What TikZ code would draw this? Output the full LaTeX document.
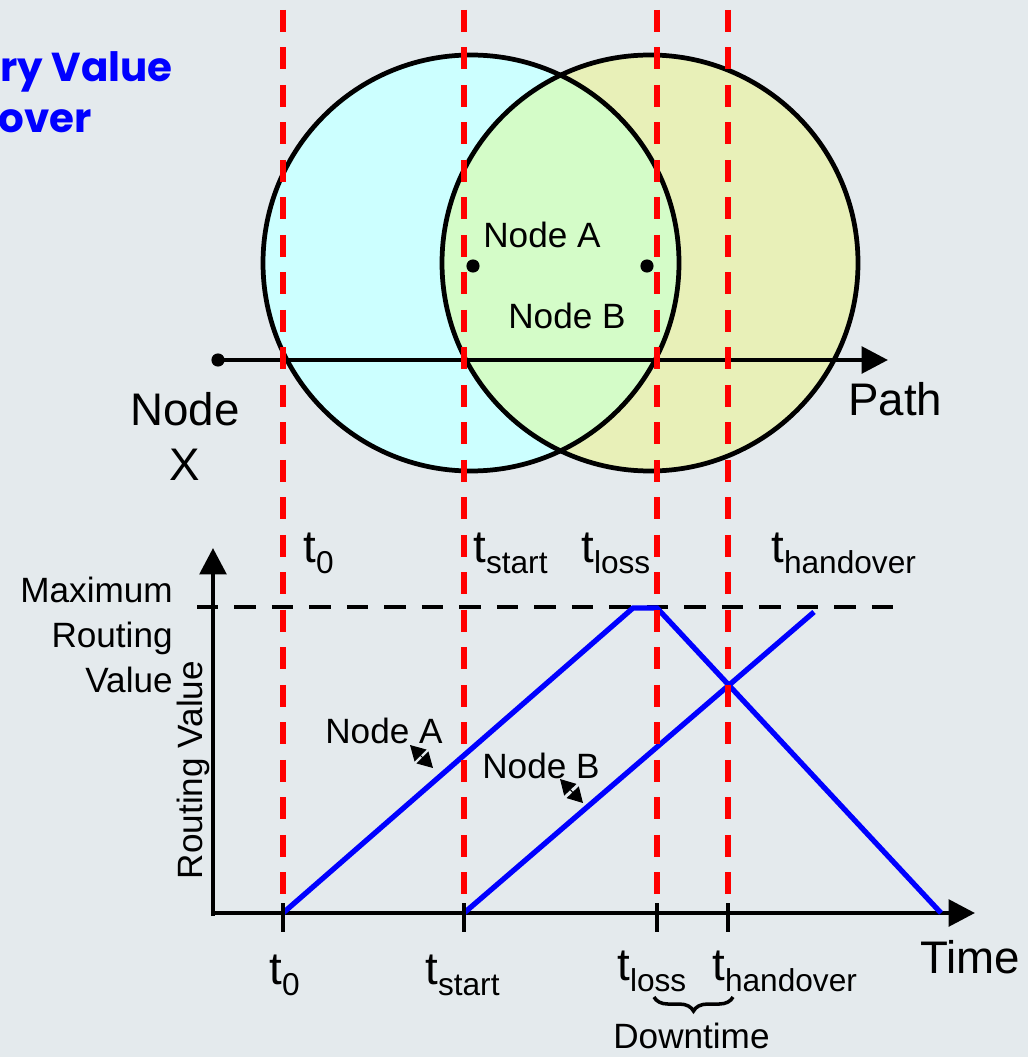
\documentclass[tikz,border=0pt]{standalone}
\usepackage{fontspec}
\setmainfont{Liberation Sans}
\newfontfamily\titlefont{Poppins}
\usepackage{tikz}
\usetikzlibrary{arrows.meta, decorations.pathreplacing}

\definecolor{bgcol}{RGB}{228,234,237}
\definecolor{cyanzone}{RGB}{204,255,255}
\definecolor{yellowzone}{RGB}{232,240,184}
\definecolor{overlapzone}{RGB}{212,252,200}

% t with a lowered subscript, as on the slide
\newcommand{\tsub}[1]{t\raisebox{-6.8pt}{\fontsize{18}{18}\selectfont #1}}

\begin{document}
\begin{tikzpicture}[
        x = 0.02cm, y = -0.02cm,
        title/.style = {text=blue, inner sep=0pt, font=\titlefont\bfseries\fontsize{23}{26}\selectfont},
        zone/.style = {draw=black, line width=2.7pt},
        guide/.style = {draw=red, line width=3.1pt, dash pattern=on 0.44cm off 0.31cm},
        axis/.style = {line width=2.6pt, -{Triangle[length=15pt, width=15pt]}},
        maxline/.style = {line width=2.6pt, dash pattern=on 0.43cm off 0.32cm},
        ramp/.style = {draw=blue, line width=3pt},
        tickmark/.style = {line width=2.8pt},
        dot/.style = {circle, fill=black, inner sep=0pt, minimum size=7.5pt},
        big/.style = {font=\fontsize{26}{31}\selectfont, inner sep=0pt},
        label/.style = {font=\fontsize{20}{25.5}\selectfont, inner sep=0pt},
        tval/.style = {font=\fontsize{26}{30}\selectfont, inner sep=0pt, anchor=base west},
        pointer/.style = {line width=0.6pt, {Stealth[length=8.5pt, width=9.5pt, inset=0pt]}-{Stealth[length=8.5pt, width=9.5pt, inset=0pt]}}
    ]
    \fill[bgcol] (0,0) rectangle (1028,1057);
    \useasboundingbox (0,0) rectangle (1028,1057);

    % title, cut off at the left edge
    \node[title, anchor=base east] (title1) at (173,82) {ry Value};
    \node[title, anchor=base east] (title2) at (92,133) {over};

    % coverage circles
    \coordinate (cA) at (471,263);
    \coordinate (cB) at (650,263);
    \fill[cyanzone] (cA) circle[radius=208];
    \fill[yellowzone] (cB) circle[radius=208];
    \begin{scope}
        \clip (cA) circle[radius=208];
        \fill[overlapzone] (cB) circle[radius=208];
    \end{scope}
    \draw[zone] (cA) circle[radius=208];
    \draw[zone] (cB) circle[radius=208];

    \node[dot] (dotA) at (473,266) {};
    \node[dot] (dotB) at (647,266) {};
    \node[label, anchor=base west] (labA) at (483,248) {Node A};
    \node[label, anchor=base west] (labB) at (508,328) {Node B};

    % path of node X
    \node[dot] (dotX) at (218,360) {};
    \coordinate (pathEnd) at (888,360);
    \draw[axis] (dotX.center) -- (pathEnd);
    \node[big, align=center, anchor=base] (labX) at (185,480) {Node\\X};
    \node[big, anchor=base west] (labPath) at (848,415) {Path};

    % routing value chart
    \coordinate (origin) at (213,913);
    \coordinate (yTop) at (213,548);
    \coordinate (xEnd) at (975,913);
    \coordinate (yFoot) at (213,916);
    \coordinate (xFoot) at (211,913);
    \draw[axis] (yFoot) -- (yTop);
    \draw[axis] (xFoot) -- (xEnd);

    \coordinate (maxL) at (197,607);
    \coordinate (maxR) at (893,607);
    \draw[maxline] (maxL) -- (maxR);

    \coordinate (a0) at (283,913);
    \coordinate (aPeak) at (633,608);
    \coordinate (aLoss) at (657,608);
    \coordinate (aEnd) at (941,913);
    \coordinate (b0) at (464,913);
    \coordinate (bEnd) at (814,612);
    \draw[ramp] (a0) -- (aPeak) -- (aLoss) -- (aEnd);
    \draw[ramp] (b0) -- (bEnd);

    % time markers
    \foreach \gx in {283,464,657,728}
        \draw[guide] (\gx,10) -- (\gx,895);
    \foreach \gx in {283,464,657,728}
        \draw[tickmark] (\gx,903) -- (\gx,932);

    \node[tval] (top0) at (303,562) {\tsub{0}};
    \node[tval] (topStart) at (473,562) {\tsub{start}};
    \node[tval] (topLoss) at (581,562) {\tsub{loss}};
    \node[tval] (topHand) at (771,562) {\tsub{handover}};

    \node[tval] (bot0) at (269,984) {\tsub{0}};
    \node[tval] (botStart) at (425,984) {\tsub{start}};
    \node[tval] (botLoss) at (617,980) {\tsub{loss}};
    \node[tval] (botHand) at (712,980) {\tsub{handover}};
    \node[big, anchor=base west] (labTime) at (920,973) {Time};

    \coordinate (braceL) at (654,997);
    \coordinate (braceR) at (733,997);
    \draw[line width=2pt, decorate, decoration={brace, mirror, amplitude=8pt}] (braceL) -- (braceR);
    \node[label, anchor=base west] (labDown) at (613,1048) {Downtime};

    \node[label, align=right, anchor=base east] (labMax) at (173,692) {Maximum\\Routing\\Value};
    \node[label, rotate=90, anchor=base] (labRV) at (202,770) {Routing Value};

    \node[label, anchor=base west] (lineA) at (325,743) {Node A};
    \node[label, anchor=base west] (lineB) at (482,778) {Node B};
    \coordinate (ptrA) at (410,745);
    \coordinate (tipA) at (433,768);
    \coordinate (ptrB) at (560,779);
    \coordinate (tipB) at (583,803);
    \draw[pointer] (ptrA) -- (tipA);
    \draw[pointer] (ptrB) -- (tipB);
\end{tikzpicture}
\end{document}
